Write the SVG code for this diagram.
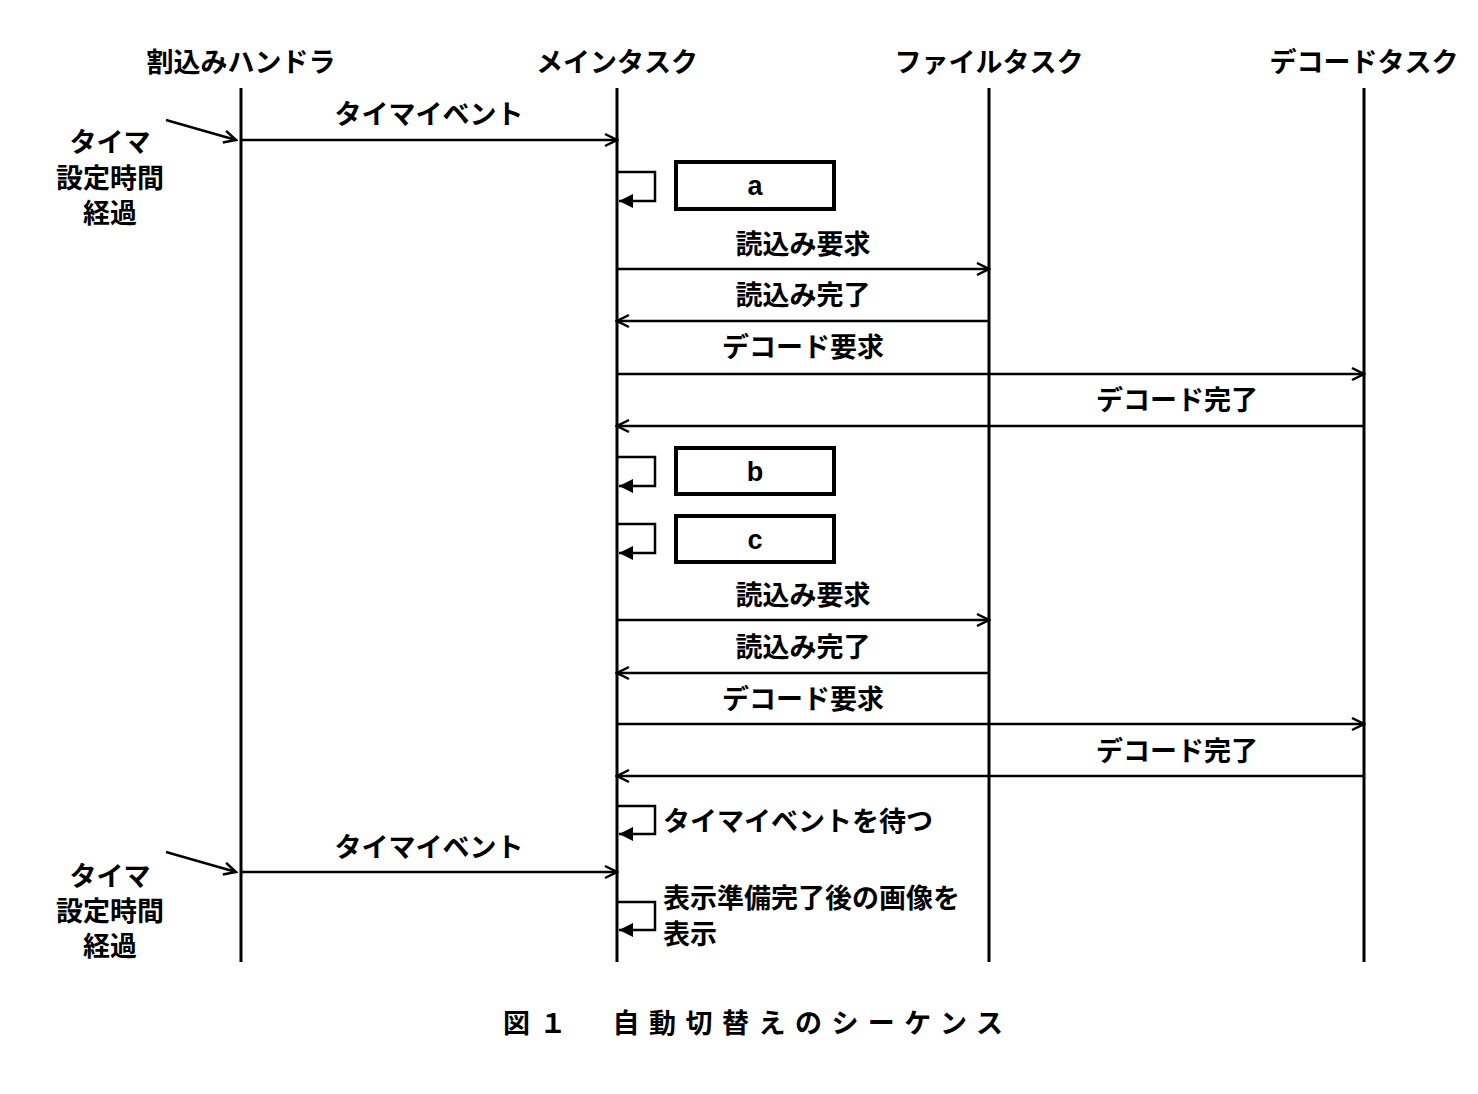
<svg xmlns="http://www.w3.org/2000/svg" width="1478" height="1094" viewBox="0 0 1478 1094">
<style>
text{font-family:"Liberation Sans","Noto Sans CJK JP",sans-serif;font-size:27px;fill:#000;font-weight:bold}
.l{stroke:#000;stroke-width:3;fill:none}
.m{stroke:#000;stroke-width:2.5;fill:none}
.box{stroke:#000;stroke-width:4;fill:#fff}
</style>
<defs>
<marker id="o" markerWidth="16" markerHeight="16" refX="14" refY="8" orient="auto" markerUnits="userSpaceOnUse"><path d="M2,2 L14,8 L2,14" fill="none" stroke="#000" stroke-width="2.5"/></marker>
<marker id="f" markerWidth="18" markerHeight="16" refX="16" refY="8" orient="auto" markerUnits="userSpaceOnUse"><path d="M2,1 L16,8 L2,15 Z" fill="#000"/></marker>
</defs>
<rect width="1478" height="1094" fill="#fff"/>
<g id="lifelines">
<text x="241" y="72" text-anchor="middle">割込みハンドラ</text>
<text x="617" y="72" text-anchor="middle">メインタスク</text>
<text x="989" y="72" text-anchor="middle">ファイルタスク</text>
<text x="1364" y="72" text-anchor="middle">デコードタスク</text>
<path class="l" d="M241,88V962M617,88V962M989,88V962M1364,88V962"/>
</g>
<g id="boxes">
<rect class="box" x="676" y="162" width="158" height="47"/><text x="755" y="195" text-anchor="middle">a</text>
<rect class="box" x="676" y="448" width="158" height="46"/><text x="755" y="481" text-anchor="middle">b</text>
<rect class="box" x="676" y="516" width="158" height="46"/><text x="755" y="549" text-anchor="middle">c</text>
</g>
<g id="labels">
<text x="110" y="152" text-anchor="middle">タイマ</text>
<text x="110" y="188" text-anchor="middle">設定時間</text>
<text x="110" y="223" text-anchor="middle">経過</text>
<text x="110" y="886" text-anchor="middle">タイマ</text>
<text x="110" y="921" text-anchor="middle">設定時間</text>
<text x="110" y="956" text-anchor="middle">経過</text>
<text x="429" y="124" text-anchor="middle">タイマイベント</text>
<text x="429" y="857" text-anchor="middle">タイマイベント</text>
<text x="803" y="254" text-anchor="middle">読込み要求</text>
<text x="803" y="305" text-anchor="middle">読込み完了</text>
<text x="803" y="357" text-anchor="middle">デコード要求</text>
<text x="1177" y="410" text-anchor="middle">デコード完了</text>
<text x="803" y="605" text-anchor="middle">読込み要求</text>
<text x="803" y="657" text-anchor="middle">読込み完了</text>
<text x="803" y="709" text-anchor="middle">デコード要求</text>
<text x="1177" y="761" text-anchor="middle">デコード完了</text>
<text x="663" y="831">タイマイベントを待つ</text>
<text x="663" y="908">表示準備完了後の画像を</text>
<text x="663" y="944">表示</text>
<text x="503" y="1033" font-size="34" textLength="500" lengthAdjust="spacing">図１　自動切替えのシーケンス</text>
</g>
<g id="connectors">
<path class="m" d="M166,120L236,140" marker-end="url(#o)"/>
<path class="m" d="M166,852L236,872" marker-end="url(#o)"/>
<path class="m" d="M241,140H617" marker-end="url(#o)"/>
<path class="m" d="M241,872H617" marker-end="url(#o)"/>
<path class="m" d="M617,269H989" marker-end="url(#o)"/>
<path class="m" d="M989,321H617" marker-end="url(#o)"/>
<path class="m" d="M617,374H1364" marker-end="url(#o)"/>
<path class="m" d="M1364,426H617" marker-end="url(#o)"/>
<path class="m" d="M617,620H989" marker-end="url(#o)"/>
<path class="m" d="M989,673H617" marker-end="url(#o)"/>
<path class="m" d="M617,724H1364" marker-end="url(#o)"/>
<path class="m" d="M1364,776H617" marker-end="url(#o)"/>
<path class="m" d="M617,172H655V201H619" marker-end="url(#f)"/>
<path class="m" d="M617,457H655V486H619" marker-end="url(#f)"/>
<path class="m" d="M617,524H655V553H619" marker-end="url(#f)"/>
<path class="m" d="M617,806H655V834H619" marker-end="url(#f)"/>
<path class="m" d="M617,902H655V930H619" marker-end="url(#f)"/>
</g>
</svg>
